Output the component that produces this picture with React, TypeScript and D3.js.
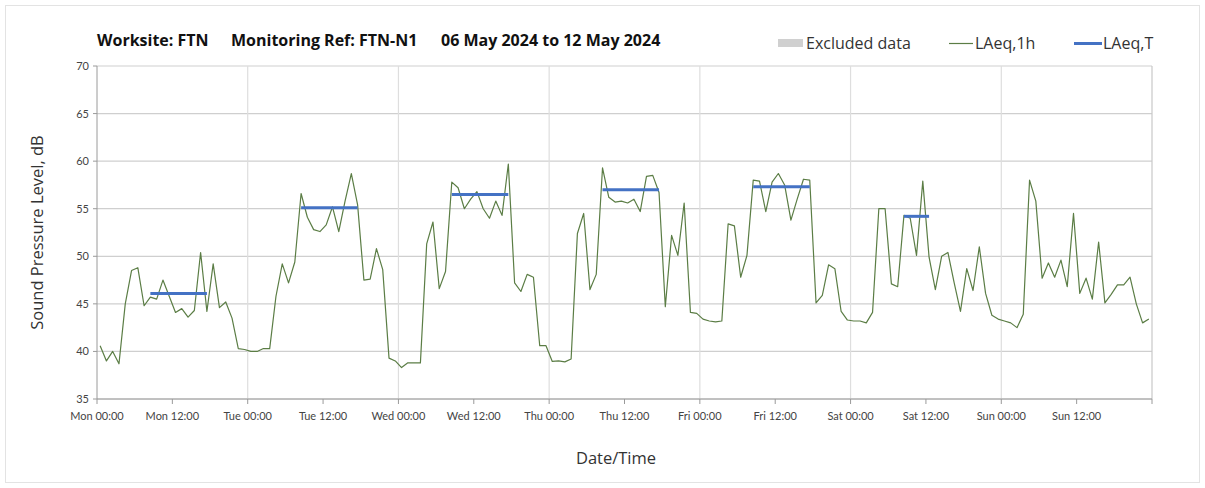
import React from 'react';
import * as d3 from 'd3';

// hourly LAeq,1h values, Mon 00:00 .. Sun 23:00 (plotted mid-hour)
const laeq1h = [
  40.6, 39.0, 40.0, 38.7, 45.0, 48.5, 48.8, 44.8, 45.7, 45.5, 47.5, 45.8,
  44.1, 44.5, 43.6, 44.3, 50.4, 44.2, 49.2, 44.6, 45.2, 43.5, 40.3, 40.2,
  40.0, 40.0, 40.3, 40.3, 45.8, 49.2, 47.2, 49.4, 56.6, 54.1, 52.8, 52.6,
  53.3, 55.2, 52.6, 55.8, 58.7, 55.4, 47.5, 47.6, 50.8, 48.6, 39.3, 39.0,
  38.3, 38.8, 38.8, 38.8, 51.3, 53.6, 46.6, 48.4, 57.8, 57.2, 55.0, 56.0,
  56.8, 55.0, 54.0, 55.8, 54.3, 59.7, 47.2, 46.3, 48.1, 47.8, 40.6, 40.6,
  38.95, 39.0, 38.9, 39.2, 52.4, 54.5, 46.5, 48.1, 59.3, 56.2, 55.7, 55.8,
  55.6, 56.0, 54.7, 58.4, 58.5, 56.7, 44.7, 52.2, 50.1, 55.6, 44.1, 44.0,
  43.4, 43.2, 43.1, 43.2, 53.4, 53.2, 47.8, 50.1, 58.0, 57.9, 54.7, 57.8,
  58.7, 57.5, 53.8, 56.0, 58.1, 58.0, 45.1, 45.9, 49.1, 48.7, 44.2, 43.3,
  43.2, 43.2, 43.0, 44.1, 55.0, 55.0, 47.1, 46.8, 54.3, 54.0, 50.1, 57.9,
  49.9, 46.5, 50.0, 50.4, 47.2, 44.2, 48.7, 46.4, 51.0, 46.1, 43.8, 43.4,
  43.2, 43.0, 42.5, 43.9, 58.0, 55.8, 47.7, 49.3, 47.8, 49.6, 46.8, 54.5,
  46.1, 47.7, 45.5, 51.5, 45.1, 46.0, 47.0, 47.0, 47.8, 45.0, 43.0, 43.4,
];

// LAeq,T daytime periods (hour index of first / last hour, level)
const periodStart = [8, 32, 56, 80, 104, 128];
const periodEnd = [17, 41, 65, 89, 113, 132];
const periodValue = [46.1, 55.1, 56.5, 57.0, 57.3, 54.2];

const xTickLabels = [
  'Mon 00:00', 'Mon 12:00', 'Tue 00:00', 'Tue 12:00', 'Wed 00:00', 'Wed 12:00',
  'Thu 00:00', 'Thu 12:00', 'Fri 00:00', 'Fri 12:00', 'Sat 00:00', 'Sat 12:00',
  'Sun 00:00', 'Sun 12:00',
];
const yTicks = [35, 40, 45, 50, 55, 60, 65, 70];

const W = 1205;
const H = 488;
const left = 97;
const right = 1152;
const top = 66;
const bottom = 399;
const tickFont = 'Lato, "Open Sans", sans-serif';
const labelFont = '"Open Sans", Lato, sans-serif';
const green = '#5b7d45';
const blue = '#4472c4';

export default function App() {
  const x = d3.scaleLinear().domain([0, 168]).range([left, right]);
  const y = d3.scaleLinear().domain([35, 70]).range([bottom, top]);

  const line = d3.line<number>()
    .x((d, i) => x(i + 0.5))
    .y(d => y(d));

  const dayTicks = d3.range(24, 168, 24);
  const halfDayTicks = d3.range(0, 169, 12);

  return (
    <svg
      width={W}
      height={H}
      style={{ position: 'absolute', left: 0, top: 0, background: '#fff' }}
      fontFamily={tickFont}
    >
      <rect x={5.5} y={5.5} width={W - 11} height={H - 11} fill="#fff" stroke="#e3e3e3" />

      <g fontSize={16} fontWeight="bold" fill="#111" fontFamily={labelFont}>
        <text x={97} y={46}>Worksite: FTN</text>
        <text x={231} y={46}>Monitoring Ref: FTN-N1</text>
        <text x={441} y={46}>06 May 2024 to 12 May 2024</text>
      </g>

      {/* legend */}
      <g fontFamily={labelFont} fontSize={16} fill="#333">
        <rect x={778} y={39} width={25} height={8} fill="#d0d0d0" />
        <text x={806} y={49}>Excluded data</text>
        <line x1={949} x2={973} y1={43.5} y2={43.5} stroke={green} strokeWidth={1.2} />
        <text x={975} y={49}>LAeq,1h</text>
        <line x1={1074} x2={1102} y1={43.5} y2={43.5} stroke={blue} strokeWidth={3} />
        <text x={1103} y={49}>LAeq,T</text>
      </g>

      {/* grid */}
      {yTicks.map(t => (
        <line key={'gy' + t} x1={left} x2={right} y1={y(t)} y2={y(t)} stroke="#cfcfcf" strokeWidth={1.2} />
      ))}
      {dayTicks.map(t => (
        <line key={'gx' + t} x1={x(t)} x2={x(t)} y1={top} y2={bottom} stroke="#dedede" strokeWidth={1.2} />
      ))}
      <line x1={right} x2={right} y1={top} y2={bottom} stroke="#c8c8c8" strokeWidth={1.2} />

      {/* axes */}
      <line x1={left} x2={left} y1={top} y2={bottom} stroke="#9a9a9a" />
      <line x1={left} x2={right} y1={bottom} y2={bottom} stroke="#9a9a9a" />
      {yTicks.map(t => (
        <g key={'yt' + t}>
          <line x1={left - 4} x2={left} y1={y(t)} y2={y(t)} stroke="#9a9a9a" />
          <text x={left - 8} y={y(t) + 4} fontSize={11} textAnchor="end" fill="#444">{t}</text>
        </g>
      ))}
      {halfDayTicks.map((t, i) => (
        <g key={'xt' + t}>
          <line x1={x(t)} x2={x(t)} y1={bottom} y2={bottom + 5} stroke="#9a9a9a" />
          {xTickLabels[i] && (
            <text x={x(t)} y={bottom + 21} fontSize={11} textAnchor="middle" fill="#444">{xTickLabels[i]}</text>
          )}
        </g>
      ))}

      <text x={616} y={464} fontSize={16.5} textAnchor="middle" fill="#333" fontFamily={labelFont}>Date/Time</text>
      <text
        transform={`translate(43, ${(top + bottom) / 2}) rotate(-90)`}
        fontSize={16.5}
        textAnchor="middle"
        fill="#333"
        fontFamily={labelFont}
      >
        Sound Pressure Level, dB
      </text>

      {/* series */}
      <path d={line(laeq1h) || ''} fill="none" stroke={green} strokeWidth={1.2} strokeLinejoin="round" />
      {periodStart.map((s, i) => (
        <line
          key={'p' + i}
          x1={x(s + 0.5)}
          x2={x(periodEnd[i] + 0.5)}
          y1={y(periodValue[i])}
          y2={y(periodValue[i])}
          stroke={blue}
          strokeWidth={3}
        />
      ))}
    </svg>
  );
}
